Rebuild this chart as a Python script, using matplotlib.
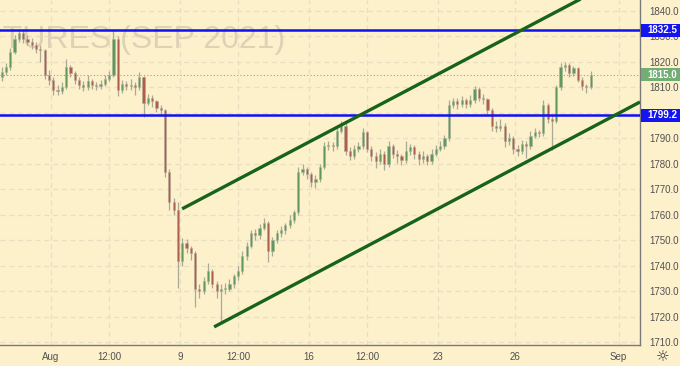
import numpy as np
import matplotlib
matplotlib.use('Agg')
import matplotlib.pyplot as plt
from matplotlib.patches import Rectangle

# 4h candles, x in trading days (0 = Aug 2)
closes = [1816, 1818, 1824, 1829, 1831.5, 1829, 1828, 1826.5, 1825, 1824.5,
          1815, 1813, 1809, 1808.5, 1810, 1818, 1815.5, 1813, 1811, 1810,
          1812.5, 1811, 1810.5, 1811.5, 1813.5, 1815, 1829, 1809, 1811.5, 1810.5,
          1811, 1810, 1814, 1804, 1806, 1804.5, 1802, 1801, 1777, 1765,
          1762, 1742, 1749, 1747, 1745, 1731, 1730, 1734, 1738, 1733,
          1730, 1731, 1731, 1733, 1736, 1738, 1744, 1748, 1753, 1752,
          1755, 1757, 1746, 1750, 1753, 1754, 1756, 1758, 1761, 1777,
          1778, 1776, 1773, 1774, 1779, 1787, 1787.5, 1787, 1793, 1795,
          1785, 1783, 1786, 1787, 1792.5, 1786, 1783, 1781, 1784, 1780,
          1787, 1784, 1783, 1781.5, 1785, 1786.5, 1784, 1782, 1783, 1781,
          1784, 1786, 1787, 1790, 1803, 1804.5, 1803.5, 1805, 1803.5, 1805,
          1809.5, 1806, 1805.5, 1801, 1795, 1794, 1795, 1789, 1790, 1786,
          1785, 1788, 1787, 1791, 1792.5, 1792, 1803, 1797.5, 1797, 1810,
          1818, 1819, 1815.5, 1817.5, 1813, 1810.5, 1810, 1815]
highs = [1818, 1819.5, 1825.5, 1830.5, 1832.8, 1832.5, 1830.5, 1829.5, 1828, 1826.5,
         1825, 1817, 1814, 1811, 1812, 1821, 1819, 1816.5, 1814, 1812.5,
         1815, 1813.5, 1812, 1813, 1815, 1816.5, 1832.5, 1830, 1813, 1812.5,
         1813.5, 1812, 1816, 1814.5, 1807.5, 1807, 1805, 1803, 1801.5, 1778,
         1766.5, 1765, 1751, 1750.5, 1748, 1746, 1733, 1735.5, 1741, 1739,
         1734, 1733, 1733.5, 1735, 1737, 1740, 1746, 1749.5, 1754, 1754.5,
         1756.5, 1759, 1757.5, 1751.5, 1754, 1755.5, 1757, 1760, 1762, 1779,
         1780, 1779, 1777, 1775.5, 1780, 1788.5, 1789, 1788.5, 1794.5, 1797,
         1796, 1786.5, 1787.5, 1788.5, 1794, 1793, 1787, 1784.5, 1786, 1785,
         1789, 1788, 1785.5, 1784, 1789, 1788, 1787.5, 1785, 1785, 1784,
         1786, 1787.5, 1789, 1791.5, 1805, 1806, 1806, 1806.5, 1806, 1807,
         1810.5, 1810, 1807.5, 1806, 1802, 1797, 1797.5, 1796, 1792, 1791,
         1787.5, 1789.5, 1789, 1793, 1794, 1793.5, 1805, 1804, 1799, 1811,
         1819.5, 1820, 1819.5, 1818.5, 1818, 1814, 1811.5, 1816.5]
lows = [1812.5, 1815, 1817, 1823, 1828, 1827.5, 1826.5, 1825, 1823.5, 1820,
        1813.5, 1811, 1807, 1807, 1807.5, 1809.5, 1814, 1811.5, 1809.5, 1808.5,
        1809, 1809.5, 1809, 1809.5, 1810.5, 1812.5, 1814, 1806.5, 1808, 1809,
        1809, 1807, 1809, 1798.5, 1803, 1802.5, 1800.5, 1799, 1775, 1762,
        1760, 1731.5, 1740, 1745, 1742.5, 1724, 1727.5, 1729, 1733, 1731.5,
        1727.5, 1717.5, 1729, 1730, 1731.5, 1734.5, 1737, 1742.5, 1747, 1750,
        1750.5, 1754, 1741.5, 1744, 1749, 1751.5, 1752.5, 1755, 1757, 1760,
        1775.5, 1774, 1771, 1770.5, 1773, 1778, 1785.5, 1785, 1786, 1792,
        1783.5, 1781.5, 1782, 1784.5, 1786, 1784.5, 1781, 1778.5, 1780, 1777.5,
        1779, 1782.5, 1780.5, 1779.5, 1780.5, 1783.5, 1782, 1779.5, 1780.5, 1779.5,
        1780, 1783, 1785, 1786, 1789, 1802, 1801.5, 1802.5, 1802, 1802.5,
        1804, 1804.5, 1803.5, 1799.5, 1793, 1792.5, 1793, 1786.5, 1787.5, 1784,
        1783, 1784, 1782.5, 1786, 1790, 1790.5, 1791, 1796, 1785.5, 1796,
        1809, 1816.5, 1814, 1814.5, 1812, 1809, 1808, 1809.5]
first_open = 1814

levels = [1832.5, 1799.2]
last_price = 1815.0
upper_channel = ([5.08, 21.28], [1762.4, 1848.7])
lower_channel = ([6.32, 22.83], [1716.1, 1804.3])

date_pos = [0, 2.25, 5, 7.25, 10, 12.25, 15, 18, 22]
date_labels = ['Aug', '12:00', '9', '12:00', '16', '12:00', '23', '26', 'Sep']
price_ticks = np.arange(1710, 1841, 10)

plt.rcParams['font.family'] = ['Liberation Sans', 'DejaVu Sans']

bg = '#fdf1cc'
fig = plt.figure(figsize=(6.8, 3.66), dpi=100, facecolor=bg)
ax = fig.add_axes([0, 21/366, 640/680, 345/366], facecolor=bg)

n = len(closes)
x = -2 + (np.arange(n) + 0.5) / 6.0
opens = np.r_[first_open, closes[:-1]]
closes = np.asarray(closes, float)
up = closes >= opens
ax.vlines(x, lows, highs, color='#aaa998', lw=0.9, zorder=3)
body_lo = np.minimum(opens, closes)
body_h = np.maximum(np.abs(closes - opens), 0.3)
ax.bar(x[up], body_h[up], bottom=body_lo[up], width=0.085,
       color='#5f9a5c', edgecolor='#a9b49c', lw=0.4, zorder=4)
ax.bar(x[~up], body_h[~up], bottom=body_lo[~up], width=0.085,
       color='#ad5e4e', edgecolor='#b8a898', lw=0.4, zorder=4)

for lv in levels:
    ax.axhline(lv, color='#1010f0', lw=1.8, zorder=5)
ax.axhline(last_price, color='#8aa88a', lw=0.8, ls=(0, (1, 2)), zorder=2)

ax.plot(*upper_channel, color='#17631a', lw=2.4, solid_capstyle='butt', zorder=6)
ax.plot(*lower_channel, color='#17631a', lw=2.4, solid_capstyle='butt', zorder=6)

ax.text(285/640, 1 - 40/345, 'FUTURES (SEP 2021)', transform=ax.transAxes,
        ha='right', va='center', fontsize=23, color='#ddd2b5', zorder=1)

ax.set_xlim(-1.98, 22.83)
ax.set_ylim(1709.0, 1844.3)

ax.set_xticks(date_pos)
ax.set_xticklabels(date_labels)
ax.set_yticks(price_ticks)
ax.set_yticklabels(['%.1f' % p for p in price_ticks])
ax.yaxis.tick_right()
ax.tick_params(axis='both', length=0, labelsize=7, colors='#505050')
ax.tick_params(axis='y', pad=7)
ax.tick_params(axis='x', pad=5)
ax.grid(True, color='#e8dec2', lw=0.9, ls=(0, (4, 3)))
ax.set_axisbelow(True)

for s in ['top', 'left']:
    ax.spines[s].set_visible(False)
for s in ['right', 'bottom']:
    ax.spines[s].set_color('#7a7a7a')
    ax.spines[s].set_linewidth(1.0)

# price tags on the right scale
for lv, fc in [(1832.5, '#1414f0'), (1799.2, '#1414f0'), (last_price, '#72ad74')]:
    yc = ax.transData.transform((0, lv))[1] / 100.0
    fig.add_artist(Rectangle((641/100, yc - 0.065), 0.39, 0.13,
                             transform=fig.dpi_scale_trans, fc=fc, ec='none', zorder=9))
    fig.text(647/680, yc / 3.66, '%.1f' % lv, ha='left', va='center',
             fontsize=7, color='white', fontweight='bold', zorder=10)

fig.text(663/680, 1 - 357/366, '\u263c', ha='center', va='center',
         fontsize=11, color='#333333', family='DejaVu Sans')

fig.savefig('out.png', dpi=100, facecolor=bg)
